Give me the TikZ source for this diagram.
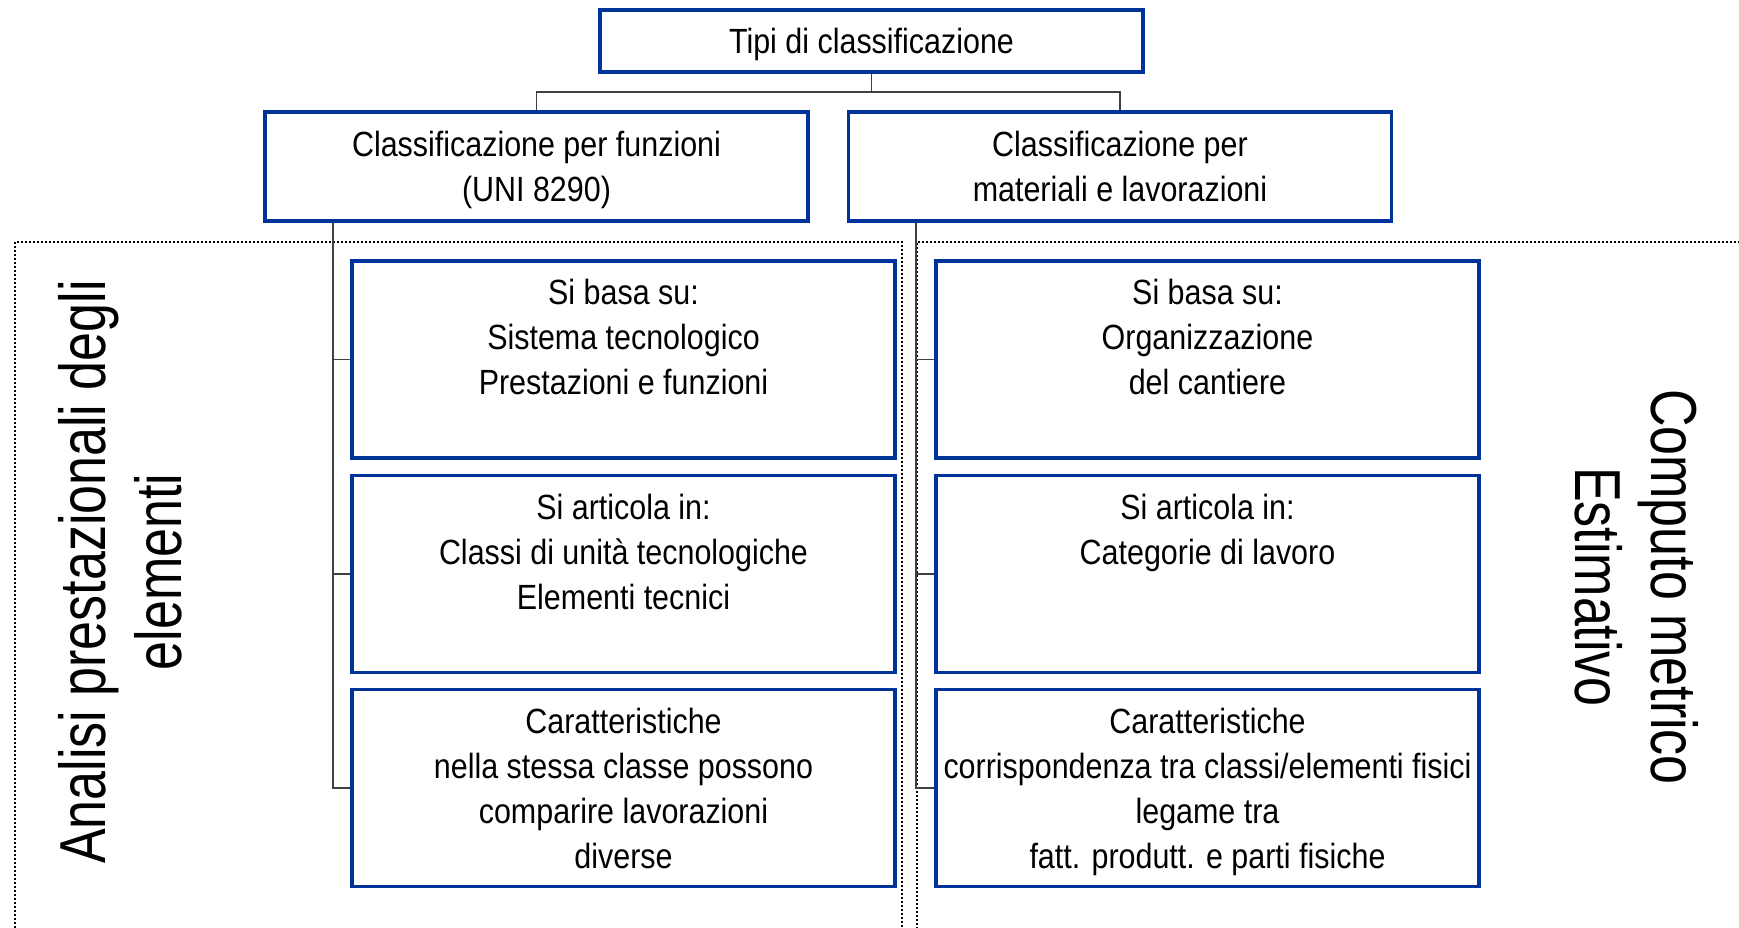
\documentclass[tikz,border=0pt]{standalone}
\usepackage{fontspec}
\setmainfont{Liberation Sans}
\newfontfamily\boxfont[FakeStretch=0.87]{Liberation Sans}
\newfontfamily\sidefont[FakeStretch=0.8]{Liberation Sans}
\definecolor{boxblue}{HTML}{003399}
\definecolor{linegray}{HTML}{404040}
\newcommand\firstln{\rule{0pt}{39pt}}
\newcommand\firstlnb{\rule{0pt}{38pt}}
\tikzset{
  bluebox/.style={draw=boxblue, line width=3.5pt, rectangle, inner sep=0pt,
    minimum width=543pt, align=center,
    font=\boxfont\fontsize{35}{45}\selectfont},
  conn/.style={draw=linegray, line width=1.4pt},
  region/.style={draw=black, line width=1.6pt, dash pattern=on 1.6pt off 2.4pt},
  sidelabel/.style={align=center, inner sep=0pt, font=\sidefont\fontsize{65}{76}\selectfont},
}
\begin{document}
\begin{tikzpicture}[x=1pt,y=-1pt]
\useasboundingbox (0,0) rectangle (1739,928);
\clip (0,0) rectangle (1739,928);
% dotted regions
\draw[region] (15,1000) -- (15,242) -- (902,242) -- (902,1000);
\draw[region] (1800,242) -- (917,242) -- (917,1000);
% boxes
\node[bluebox, minimum height=62pt] (top) at (871.5,41) {\firstln\strut Tipi di classificazione};
\node[bluebox, minimum height=109pt] (fun) at (536.5,166.5) {\firstlnb\strut Classificazione per funzioni\\\strut(UNI 8290)};
\node[bluebox, minimum height=109pt] (mat) at (1120,166.5) {\firstlnb\strut Classificazione per\\\strut materiali e lavorazioni};
\node[bluebox, minimum height=197pt] (f1) at (623.5,359.5) {\firstln\strut Si basa su:\\\strut Sistema tecnologico\\\strut Prestazioni e funzioni\\\strut};
\node[bluebox, minimum height=197pt] (f2) at (623.5,574) {\firstln\strut Si articola in:\\\strut Classi di unità tecnologiche\\\strut Elementi tecnici\\\strut};
\node[bluebox, minimum height=197pt] (f3) at (623.5,788) {\firstln\strut Caratteristiche\\\strut nella stessa classe possono\\\strut comparire lavorazioni\\\strut diverse};
\node[bluebox, minimum height=197pt] (m1) at (1207.5,359.5) {\firstln\strut Si basa su:\\\strut Organizzazione\\\strut del cantiere\\\strut};
\node[bluebox, minimum height=197pt] (m2) at (1207.5,574) {\firstln\strut Si articola in:\\\strut Categorie di lavoro\\\strut\\\strut};
\node[bluebox, minimum height=197pt] (m3) at (1207.5,788) {\firstln\strut Caratteristiche\\\strut corrispondenza tra classi/elementi fisici\\\strut legame tra\\\strut fatt. produtt. e parti fisiche};
% side labels
\node[sidelabel, rotate=90] (lab1) at (120,572) {Analisi prestazionali degli\\elementi};
\node[sidelabel, rotate=-90] (lab2) at (1637,587) {Computo metrico\\Estimativo};
% connectors
\coordinate (bus) at (0,92);
\coordinate (spL) at (333,0);
\coordinate (spR) at (916,0);
\draw[conn] (top.south) -- (top.south |- bus);
\draw[conn] (fun.north) -- (fun.north |- bus) -| (mat.north);
\draw[conn] (fun.south -| spL) -- (spL |- f3.west) -- (f3.west);
\draw[conn] (spL |- f1.west) -- (f1.west);
\draw[conn] (spL |- f2.west) -- (f2.west);
\draw[conn] (mat.south -| spR) -- (spR |- m3.west) -- (m3.west);
\draw[conn] (spR |- m1.west) -- (m1.west);
\draw[conn] (spR |- m2.west) -- (m2.west);
\end{tikzpicture}
\end{document}
